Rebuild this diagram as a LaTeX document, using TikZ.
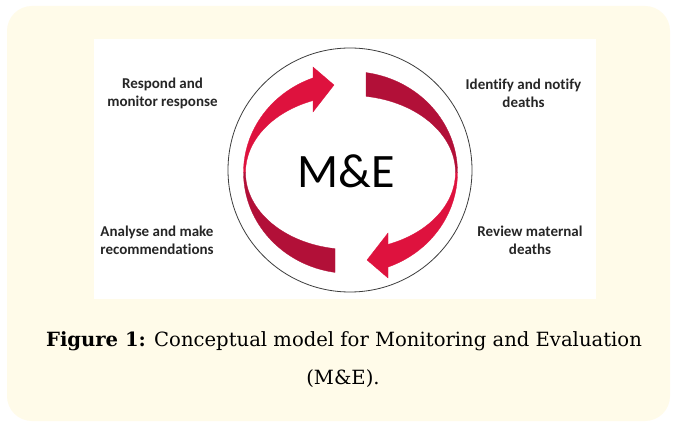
\documentclass[tikz,border=0pt]{standalone}
\usepackage{fontspec}
\setmainfont{DejaVu Serif}
\newfontfamily\calib[Ligatures=NoCommon]{Carlito}
\definecolor{cream}{RGB}{255,251,233}
\definecolor{brightred}{RGB}{222,18,62}
\definecolor{darkred}{RGB}{178,16,56}
\definecolor{ringgray}{RGB}{60,60,60}
\tikzset{
  lbl/.style={align=center, inner sep=0pt, font=\calib\bfseries\fontsize{15}{18}\selectfont, text=black!85},
  capt/.style={anchor=base, inner sep=0pt, font=\fontsize{19.6}{24}\selectfont},
  brightpart/.style={fill=brightred, draw=brightred, line width=0.3pt},
  darkpart/.style={fill=darkred, draw=darkred, line width=0.3pt}
}
\newcommand{\leftarrowshape}{%
  \path[brightpart] (180:107 and 101) arc[start angle=180, end angle=110.52, x radius=107, y radius=101]
     -- (-37.5,105.5) -- (-16.5,87.5) -- (-37.5,60.5) -- (-37.5,71.9)
     arc[start angle=110.93, end angle=180, x radius=105, y radius=77] -- cycle;
  \path[darkpart] (261.67:107 and 101) arc[start angle=261.67, end angle=180, x radius=107, y radius=101]
     -- (-105,0) arc[start angle=180, end angle=261.51, x radius=105, y radius=77] -- cycle;
}
\begin{document}
\begin{tikzpicture}[x=1pt,y=1pt]
\useasboundingbox (0,0) rectangle (677,423);
\fill[white] (0,0) rectangle (677,423);
\fill[cream, rounded corners=25pt] (7,2) rectangle (670,417);
\fill[white] (94,124) rectangle (596,384);
\node[circle, draw=ringgray, line width=0.8pt, minimum size=244pt, inner sep=0pt] (ring) at (350,253) {};
\coordinate (C) at (350.5,250.5);
\begin{scope}[shift={(C)}]
  \leftarrowshape
\end{scope}
\begin{scope}[shift={(C)}, rotate=180]
  \leftarrowshape
\end{scope}
\node[anchor=base, inner sep=0pt, font=\calib\fontsize{48}{56}\selectfont] (me) at (346,235) {M\&E};
\node[lbl] (respond) at (162.5,330) {Respond and\\monitor response};
\node[lbl] (identify) at (523.5,330) {Identify and notify\\deaths};
\node[lbl] (analyse) at (157,182.5) {Analyse and make\\recommendations};
\node[lbl] (review) at (530,182.5) {Review maternal\\deaths};
\node[capt] (cap1) at (344,77) {\textbf{Figure 1:} Conceptual model for Monitoring and Evaluation};
\node[capt] (cap2) at (343,39) {(M\&E).};
\end{tikzpicture}
\end{document}
